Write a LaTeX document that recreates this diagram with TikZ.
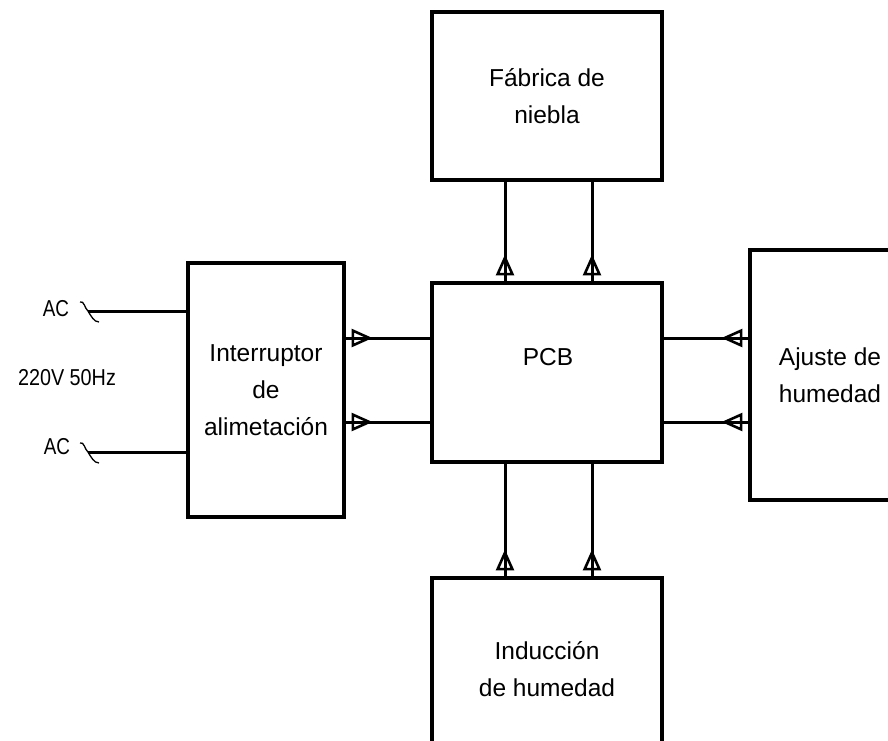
\documentclass[tikz,border=0pt]{standalone}
\usepackage{fontspec}
\setmainfont{Liberation Sans}
\usetikzlibrary{arrows.meta,decorations.markings,calc}
\begin{document}
\begin{tikzpicture}[x=1pt,y=-1pt,
  box/.style={draw,line width=3.2pt,inner sep=0pt,align=center,font=\fontsize{24.5}{37}\selectfont},
  conn/.style={line width=3pt, postaction={decorate},
    decoration={markings, mark=at position 27pt with {\arrow{Triangle[open,length=21pt,width=18pt,line width=2.6pt]}}}},
  lbl/.style={font=\fontsize{24.5}{37}\selectfont, align=center},
  cad/.style={font=\fontsize{23}{23}\selectfont, inner sep=0pt},
  wire/.style={line width=3pt},
  tilde/.style={line width=1.3pt}]
\useasboundingbox (0,0) rectangle (888,740);
\clip (0,0) rectangle (888,740);

% boxes
\node[box, minimum width=230pt, minimum height=168pt] (fog) at (547,96) {Fábrica de\\niebla};
\node[box, minimum width=230pt, minimum height=179pt] (pcb) at (547,372.5) {};
\node[lbl] (pcbtext) at (548,357) {PCB};
\node[box, minimum width=156pt, minimum height=254pt] (sw) at (266,390) {Interruptor\\de\\alimetación};
\node[box, minimum width=160pt, minimum height=250pt] (adj) at (830,375) {Ajuste de\\humedad};
\node[box, minimum width=230pt, minimum height=182pt] (ind) at (547,669) {Inducción\\de humedad};

% AC labels
\node[cad] (ac1) at (56,309) {\scalebox{0.82}[1]{AC}};
\node[cad] (ac2) at (57,447) {\scalebox{0.82}[1]{AC}};
\node[cad] (volt) at (67,378) {\scalebox{0.86}[1]{220V 50Hz}};

% AC wires with tildes
\coordinate (t1) at (88,311);
\coordinate (t2) at (88,452);
\draw[tilde] (80,302) .. controls (84,300) and (85,309) .. (t1) .. controls (91,316) and (94,322) .. (99,322);
\draw[tilde] (80,443) .. controls (84,441) and (85,450) .. (t2) .. controls (91,457) and (94,463) .. (99,463);
\draw[wire] (t1) -- (sw.west |- t1);
\draw[wire] (t2) -- (sw.west |- t2);

% connector rows/columns
\coordinate (r1) at (0,338);
\coordinate (r2) at (0,422);
\coordinate (c1) at (505,0);
\coordinate (c2) at (592,0);

% switch -> PCB
\draw[conn] (sw.east |- r1) -- (pcb.west |- r1);
\draw[conn] (sw.east |- r2) -- (pcb.west |- r2);
% PCB -> fog
\draw[conn] (pcb.north -| c1) -- (fog.south -| c1);
\draw[conn] (pcb.north -| c2) -- (fog.south -| c2);
% induction -> PCB
\draw[conn] (ind.north -| c1) -- (pcb.south -| c1);
\draw[conn] (ind.north -| c2) -- (pcb.south -| c2);
% adjust -> PCB
\draw[conn] (adj.west |- r1) -- (pcb.east |- r1);
\draw[conn] (adj.west |- r2) -- (pcb.east |- r2);
\end{tikzpicture}
\end{document}
